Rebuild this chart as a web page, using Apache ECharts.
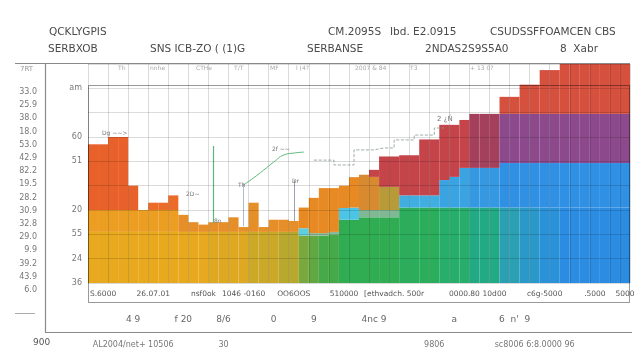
<!DOCTYPE html>
<html><head><meta charset="utf-8">
<script src="https://cdn.jsdelivr.net/npm/echarts@6/dist/echarts.min.js"></script>
<style>html,body{margin:0;padding:0;background:#fff}#c{width:640px;height:360px}</style>
</head><body><div id="c"></div>
<script>
// ---- data ----
const categories = Array.from({length: 54}, (_, i) => 'c' + (i + 1));
const baseLayer   = [21,21,21,21,21,21,21,21,21,21,21,21,21,21,21,21,21,21,21,21,21,19.5,19.5,19.5,20,26,26,27,27,27,27,31,31,31,31,31,31,31,31,31,31,31,31,31,31,31,31,31,31,31,31,31,31,31];
const accentLayer = [9,9,9,9,9,9,9,9,9,7,4,3,4,4,6,2,12,2,5,5,4.5,3,1,1,1,4.8,5,3,3,3,3,5,5,5,5,11.3,12.6,16.3,16.3,16.3,16.3,18.3,18.3,18.3,18.3,18.3,18.3,18.3,18.3,18.3,18.3,18.3,18.3,18.3];
const midLayer    = [0,0,0,0,0,0,0,0,0,0,0,0,0,0,0,0,0,0,0,0,0,8.5,14.5,18.5,18,9.2,12.5,14.5,13.6,9.5,9.5,0,0,0,0,0,0,0,22.2,22.2,22.2,20.2,20.2,20.2,20.2,20.2,20.2,20.2,20.2,20.2,20.2,20.2,20.2,20.2];
const topLayer    = [27,27,30,30,10,0,3,3,6,0,0,0,0,0,0,0,0,0,0,0,0,0,0,0,0,0,0,0,2.9,12.5,12.5,16.5,16.5,23,23,22.7,21.4,19.7,0,0,0,7,7,12,12,18,18,20.5,20.5,20.5,20.5,20.5,20.5,20.5];
const trendLine   = [null,null,null,null,null,null,null,null,null,null,null,null,null,null,null,40.3,43.2,46.4,49.7,52.6,53.4,53.8,null,null,null,null,null,null,null,null,null,null,null,null,null,null,null,null,null,null,null,null,null,null,null,null,null,null,null,null,null,null,null,null];
const stepLine    = [null,null,null,null,null,null,null,null,null,null,null,null,null,null,null,null,null,null,null,null,null,null,50.5,50.5,48.5,48.5,54.7,54.7,55.5,55.5,58.8,58.8,60.8,60.8,63.7,null,null,null,null,null,null,null,null,null,null,null,null,null,null,null,null,null,null,null];
const xLabelsRow1 = {1:'S.6000',6:'26.07.01',11:'nsf0ok',15:'1046 -0160',20:'OO6OOS',25:'510000',30:'[ethvadch. 500r',37:'0000.80',40:'10d00',45:'c6g-5000',50:'.5000',53:'5000'};
const xLabelsRow2 = {4:'4 9',9:'f 20',13:'8/6',18:'0',22:'9',28:'4nc 9',36:'a',42:'6  n\'  9'};
const xLabelsRow3 = {4:'AL2004/net+ 10506',13:'30',34:'9806',44:'sc8006 6:8.0000 96'};
const innerTicks  = {0:'36',10:'24',20:'55',30:'20',50:'51',60:'60',80:'am'};
const outerTicks  = ['6.0','43.9','39.2','9.9','29.0','32.8','30.9','28.2','19.5','82.2','42.9','53.0','18.0','38.0','25.9','33.0'];
const headerRow1  = [['QCKLYGPIS',49],['CM.2095S',328],['Ibd. E2.0915',390],['CSUDSSFFOAMCEN CBS',490]];
const headerRow2  = [['SERBXOB',48],['SNS ICB-ZO ( (1)G',150],['SERBANSE',307],['2NDAS2S9S5A0',425],['8  Xabr',560]];
const topTinyText = [['Th',118],['nnhe',150],['CTHe',196],['T/T',234],['MF',270],['l (4?',296],['2007 & 84',355],['T3',410],['+ 13 0?',470]];

// ---- styles (colours by bar) ----
function pick(i, ranges) { for (const r of ranges) if (i <= r[0]) return r[1]; return ranges[ranges.length - 1][1]; }
const baseColors = categories.map((_, i) => pick(i, [[11,'#e8a91e'],[15,'#dea822'],[18,'#cca828'],[20,'#b8a82e'],[21,'#78a83e'],[22,'#62a842'],[24,'#46aa48'],[30,'#30ac52'],[34,'#2aae5c'],[37,'#26ae6a'],[40,'#22aa84'],[42,'#2aa0b2'],[44,'#2a98c8'],[46,'#2a92d8'],[53,'#2c8ce2']]));
const accentColors = categories.map((_, i) => pick(i, [[8,'#eb9e22'],[20,'#e68e28'],[21,'#5cd0e0'],[24,'#8ab89a'],[26,'#4cc4e6'],[30,'#80b894'],[34,'#40aee0'],[37,'#3aa4e2'],[40,'#3598e2'],[53,'#3090e4']]));
const midColors = categories.map((_, i) => pick(i, [[26,'#e88a24'],[28,'#d88a30'],[30,'#b89a38'],[37,'#c4444a'],[40,'#a4405c'],[53,'#8c4a8c']]));
const topColors = categories.map((_, i) => pick(i, [[4,'#e8602a'],[8,'#ea6c28'],[37,'#c4444a'],[53,'#d6503e']]));

function layer(name, vals, cols) {
  return {
    name, type: 'bar', stack: 'total', barWidth: '100%', barCategoryGap: 0,
    data: vals.map((v, i) => ({ value: v, itemStyle: { color: cols[i] } })),
    itemStyle: { borderWidth: 0 }, emphasis: { disabled: true }, z: 2
  };
}

const chart = echarts.init(document.getElementById('c'), null, { renderer: 'canvas' });
const txt = (text, x, y, size, color) => ({ type: 'text', x, y, style: { text, fontSize: size, fill: color || '#444', fontFamily: 'DejaVu Sans' }, z: 20 });
const graphics = [];
headerRow1.forEach(h => graphics.push(txt(h[0], h[1], 27, 10.5, '#4a4a4a')));
headerRow2.forEach(h => graphics.push(txt(h[0], h[1], 44, 10.5, '#4a4a4a')));
topTinyText.forEach(h => graphics.push(txt(h[0], h[1], 65, 6, '#aaa')));
graphics.push(txt('900', 33, 338, 9, '#555'));
graphics.push(txt('7RT', 20, 66, 7, '#999'));
graphics.push(txt('Dg ~~>', 102, 130, 6, '#777'));
graphics.push(txt('2D~', 186, 191, 6, '#777'));
graphics.push(txt('2f ~~', 272, 146, 6, '#777'));
graphics.push(txt('8n', 214, 218, 6, '#777'));
graphics.push(txt('Th', 238, 182, 6, '#777'));
graphics.push(txt('Dr', 292, 178, 6, '#777'));
graphics.push(txt('2 ¿Ň', 437, 116, 7, '#777'));
// frames
const line = (x1, y1, x2, y2, c, w) => ({ type: 'line', shape: { x1, y1, x2, y2 }, style: { stroke: c, lineWidth: w || 1 }, z: 15, silent: true });
graphics.push(line(15, 63.5, 630, 63.5, '#8a8a8a', 1.2));
graphics.push(line(45.5, 63, 45.5, 332, '#8a8a8a', 1.2));
graphics.push(line(45, 332.5, 632, 332.5, '#8a8a8a', 1.2));
graphics.push(line(15, 313.5, 35, 313.5, '#aaa', 1));
graphics.push({ type: 'rect', shape: { x: 88.5, y: 85.5, width: 541, height: 217 }, style: { stroke: 'rgba(0,0,0,0.4)', fill: 'none', lineWidth: 1 }, z: 15, silent: true });

const option = {
  animation: false,
  backgroundColor: '#fff',
  grid: [
    { left: 88, right: 10, top: 64, bottom: 77 },
    { left: 88, right: 10, top: 92, bottom: 70 }
  ],
  xAxis: [
    { type: 'category', data: categories, z: 10,
      axisLine: { show: false }, axisTick: { show: false },
      axisLabel: { interval: 0, margin: 7, fontSize: 7.5, color: '#555', fontFamily: 'DejaVu Sans', formatter: (v, i) => xLabelsRow1[i] || '' },
      splitLine: { show: true, interval: 1, lineStyle: { color: 'rgba(0,0,0,0.14)', width: 1 } } },
    { type: 'category', data: categories, position: 'bottom', offset: 24,
      axisLine: { show: false }, axisTick: { show: false },
      axisLabel: { interval: 0, fontSize: 9, color: '#666', fontFamily: 'DejaVu Sans', formatter: (v, i) => xLabelsRow2[i] || '' } },
    { type: 'category', data: categories, position: 'bottom', offset: 50,
      axisLine: { show: false }, axisTick: { show: false },
      axisLabel: { interval: 0, fontSize: 8, color: '#777', fontFamily: 'DejaVu Sans', formatter: (v, i) => xLabelsRow3[i] || '' } },
    { type: 'value', gridIndex: 1, show: false }
  ],
  yAxis: [
    { type: 'value', min: 0, max: 90, interval: 10, z: 10,
      axisLine: { show: false }, axisTick: { show: false },
      axisLabel: { fontSize: 8, color: '#777', margin: 6, fontFamily: 'DejaVu Sans', formatter: v => innerTicks[v] || '' },
      splitLine: { lineStyle: { color: 'rgba(0,0,0,0.14)', width: 1 } } },
    { type: 'category', gridIndex: 1, data: outerTicks, boundaryGap: false, position: 'left', offset: 43,
      axisLine: { show: false }, axisTick: { show: false }, splitLine: { show: false },
      axisLabel: { interval: 0, fontSize: 8, color: '#777', margin: 8, fontFamily: 'DejaVu Sans' } }
  ],
  series: [
    layer('base', baseLayer, baseColors),
    layer('accent', accentLayer, accentColors),
    layer('mid', midLayer, midColors),
    layer('top', topLayer, topColors),
    { name: 'trend', type: 'line', data: trendLine, smooth: true, symbol: 'none', z: 12,
      lineStyle: { color: '#5cb87a', width: 1 },
      markLine: { silent: true, symbol: 'none', label: { show: false },
        lineStyle: { color: '#5cb87a', width: 1.2, type: 'solid' },
        data: [
          [{ coord: ['c13', 24.7] }, { coord: ['c13', 56.3] }],
          [{ coord: ['c16', 23.4] }, { coord: ['c16', 41], lineStyle: { color: '#9ab', width: 0.8 } }],
          [{ coord: ['c21', 25.5] }, { coord: ['c21', 42.3], lineStyle: { color: '#889', width: 0.8 } }]
        ] } },
    { name: 'steps', type: 'line', data: stepLine, step: 'end', symbol: 'none', z: 12,
      lineStyle: { color: '#8a9a90', width: 0.8, type: 'dashed' } }
  ],
  graphic: graphics
};
chart.setOption(option);
</script>
</body></html>
